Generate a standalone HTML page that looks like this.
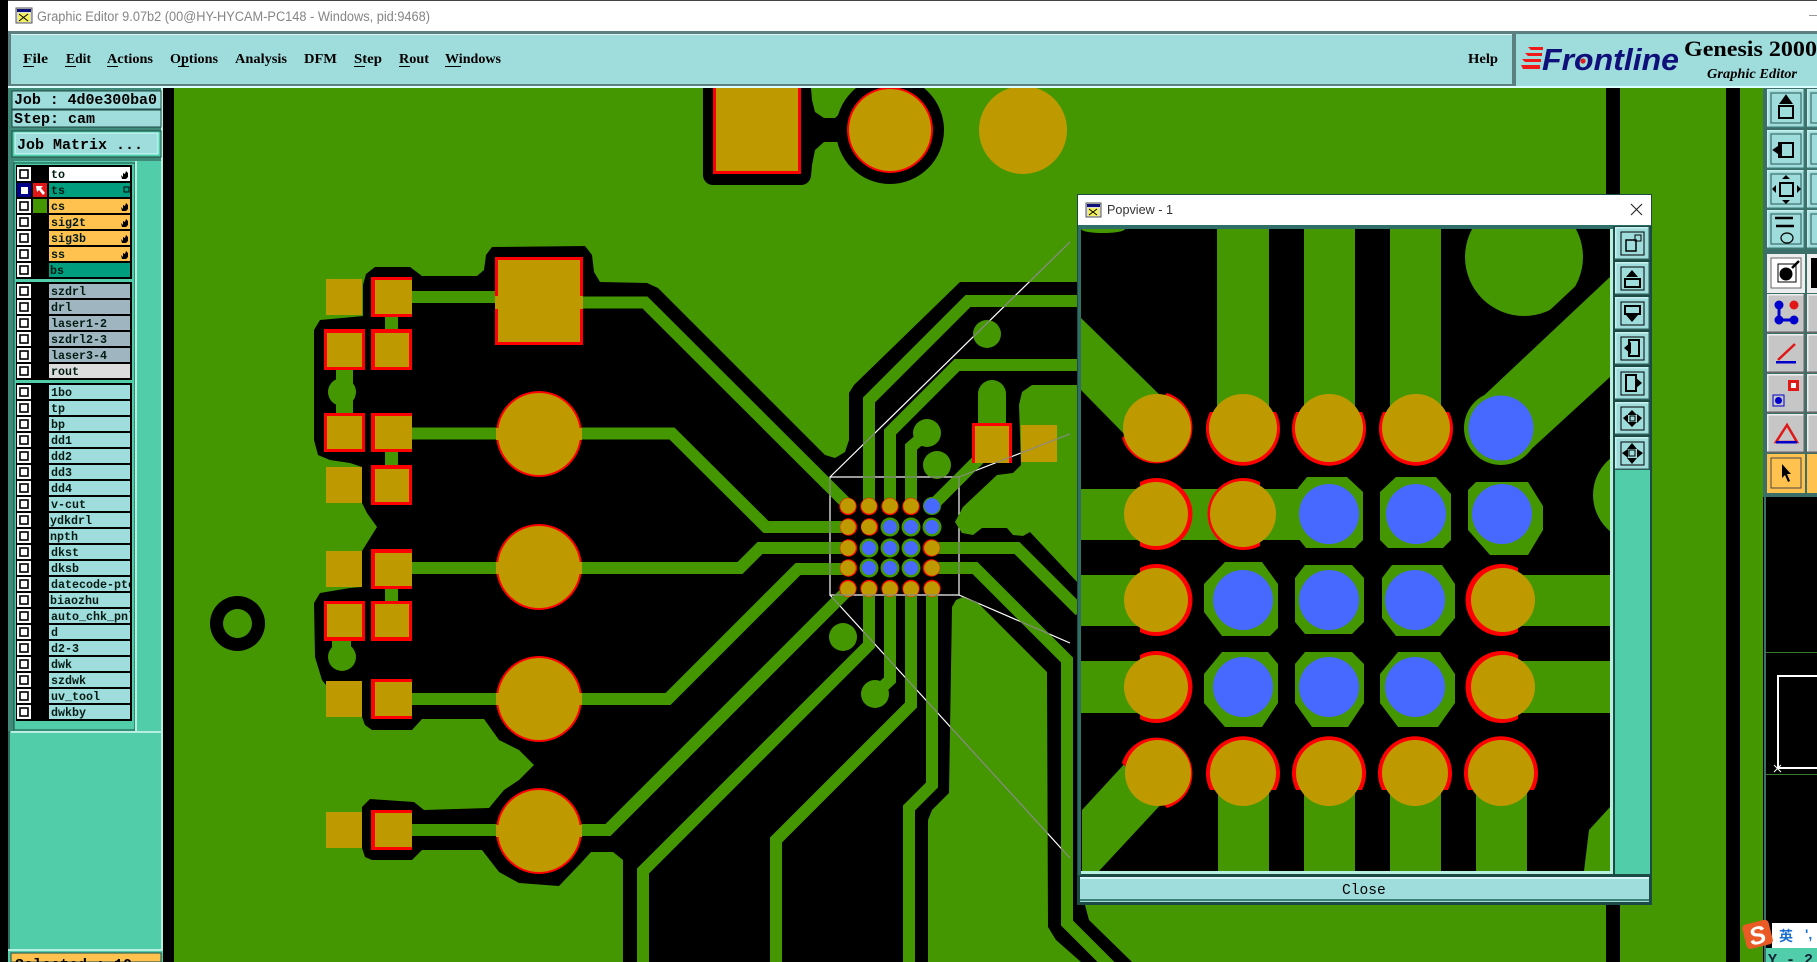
<!DOCTYPE html>
<html><head><meta charset="utf-8"><title>Graphic Editor</title>
<style>html,body{margin:0;padding:0;background:#000;width:1817px;height:962px;overflow:hidden}svg{display:block}
.m{font-family:"Liberation Mono",monospace;font-weight:bold}
.s{font-family:"Liberation Serif",serif;font-weight:bold}
.l{font-family:"Liberation Mono",monospace;font-weight:bold;font-size:11.67px;fill:#001a12}
</style></head><body>
<svg width="1817" height="962" viewBox="0 0 1817 962" xmlns="http://www.w3.org/2000/svg">
<defs>
<clipPath id="lc"><rect x="49" y="160" width="81" height="570"/></clipPath>
<clipPath id="pc"><rect x="1081" y="229" width="529" height="642"/></clipPath>
<clipPath id="sc"><rect x="0" y="950" width="170" height="12"/></clipPath>
<clipPath id="cv"><rect x="174" y="88" width="1589" height="874"/></clipPath>
<clipPath id="yc"><rect x="1766" y="948" width="51" height="14"/></clipPath>
<polygon id="bk" points="363,285 366,274 375,267 410,267 422,276 477,276 484,270 486,255 492,247 585,246 592,255 594,272 600,282 647,283 658,288 825,455 835,458 845,452 849,440 849,393 854,385 960,282 1085,282 1085,385 1032,385 1022,392 1019,405 1021,465 1013,473 997,475 963,507 955,522 962,533 973,535 982,528 1007,528 1013,535 1023,536 1030,532 1077,582 1085,582 1085,905 1089,920 1132,962 623,962 623,860 613,852 591,852 581,863 559,886 519,883 499,872 482,850 422,850 412,860 372,860 365,857 362,848 362,807 370,799 414,802 424,810 489,808 504,790 519,780 534,765 519,750 499,740 484,719 422,719 412,730 372,730 365,725 362,717 362,690 326,685 322,680 315,657 314,603 320,593 350,588 362,587 362,551 367,543 377,527 367,513 362,503 362,467 350,463 330,460 318,455 314,440 314,330 320,320 353,317 363,316"/>
<polygon id="gr" points="928,962 928,820 932,810 949,793 952,607 956,600 963,597 977,602 1047,672 1048,927 1056,940 1081,962"/>
<clipPath id="bc"><use href="#bk"/></clipPath>
<g id="cb"><rect width="14" height="14" fill="#fff"/><rect x="3" y="3" width="8" height="8" fill="#fff" stroke="#000" stroke-width="1.6"/></g>
<polygon id="hand" points="0,4 2,6 2,2 4,3 5,0 7,2 7,6 5,8 1,8" fill="#000"/>
<g id="bt"><rect width="38" height="39" fill="#3c7a74"/><rect width="36.5" height="37.5" fill="#c8f0f0"/><rect x="1.5" y="1.5" width="35" height="36" fill="#9fdcdc"/><rect x="4" y="4" width="30" height="30" fill="none" stroke="#2a5a55"/></g>
<g id="bg"><rect width="38" height="39" fill="#666"/><rect width="36.5" height="37.5" fill="#eee"/><rect x="1.5" y="1.5" width="35" height="36" fill="#c6c6c6"/></g>
<g id="pb"><rect width="35" height="33" fill="#2c5c58"/><rect width="33.5" height="31.5" fill="#c8f0f0"/><rect x="1.5" y="1.5" width="32" height="30" fill="#9fdcdc"/><rect x="6" y="5" width="23" height="23" fill="none" stroke="#000"/></g>
<g id="tr" fill="none" stroke-width="12">
<path d="M412 297H495"/><path d="M583 302.5H645L849 506"/>
<path d="M412 433.5H672L766 527H848"/>
<path d="M412 568H740L760 548H848"/>
<path d="M412 699H668L798 569H848"/>
<path d="M412 830H608L848 590"/>
<path d="M932 548H1017L1080 611"/>
<path d="M932 568H975L1067 660V923L1130 986"/>
<path d="M869 506V400L968 301H1080"/>
<path d="M890 506V432L957 365H1080"/>
<path d="M911 506V447L927 433"/>
<path d="M932 506L992 446"/>
<path d="M869 589V645L643 871V962"/>
<path d="M890 589V680L875 694"/>
<path d="M911 589V705L776 840V962"/>
<path d="M932 589V785L909 808V962"/>
</g>
<mask id="gm" maskUnits="userSpaceOnUse" x="0" y="0" width="1817" height="962">
<use href="#tr" stroke="#fff"/><use href="#gr" fill="#fff"/>
<g fill="#fff"><circle cx="848" cy="589" r="8"/><circle cx="869" cy="589" r="8"/><circle cx="890" cy="589" r="8"/><circle cx="911" cy="589" r="8"/><circle cx="932" cy="589" r="8"/><rect x="972" y="423" width="40" height="40"/><rect x="1021" y="425" width="36" height="37"/><circle cx="987" cy="334" r="14"/><circle cx="937" cy="465" r="14"/></g>
</mask>
</defs>

<rect width="1817" height="962" fill="#000"/>
<!-- canvas -->
<g clip-path="url(#cv)">
<rect x="174" y="88" width="1589" height="874" fill="#449700"/>
<!-- gray lines under black -->
<g stroke="#8a8a8a" stroke-width="1.2" fill="none">
<path d="M830 477L1070 242M959 477L1070 434M959 595L1070 643M830 595L1070 858"/>
</g>
<rect x="1606" y="88" width="14" height="874" fill="#000"/>
<rect x="1726" y="88" width="14" height="874" fill="#000"/>
<circle cx="237.5" cy="623.5" r="27.5" fill="#000"/><circle cx="237.5" cy="623.5" r="14.5" fill="#449700"/>
<!-- top pads -->
<rect x="703" y="70" width="108" height="115" rx="10" fill="#000"/>
<rect x="805" y="118" width="50" height="24" fill="#000"/>
<polygon points="811,88 812,100 815,112 824,118 805,118" fill="#000"/>
<polygon points="811,176 812,165 815,150 824,142 805,140" fill="#000"/>
<polygon points="835,118 850,104 850,118" fill="#000"/>
<polygon points="838,142 850,158 850,142" fill="#000"/>
<circle cx="890" cy="130" r="54" fill="#000"/>
<rect x="713" y="70" width="88" height="104" fill="#f00"/><rect x="716" y="70" width="82" height="101" fill="#bf9900"/>
<circle cx="890" cy="130" r="43" fill="#f00"/><circle cx="890" cy="130" r="41" fill="#bf9900"/>
<circle cx="1023" cy="130" r="44" fill="#bf9900"/>
<!-- black clearance -->
<use href="#bk" fill="#000"/>
<!-- white lines on black -->
<g stroke="#fff" stroke-width="1.2" fill="none" clip-path="url(#bc)">
<path d="M830 477L1070 242M959 477L1070 434M959 595L1070 643M830 595L1070 858"/>
<rect x="830" y="477" width="129" height="118"/>
</g>
<!-- green region on black -->
<use href="#gr" fill="#449700"/>
<use href="#tr" stroke="#449700"/>
<g fill="#449700">
<circle cx="927" cy="433" r="14"/><circle cx="937" cy="465" r="14"/><circle cx="875" cy="694" r="14"/><circle cx="843" cy="637" r="14"/><circle cx="342" cy="392" r="14"/><circle cx="342" cy="657" r="14"/><circle cx="987" cy="334" r="14"/><circle cx="992" cy="394" r="14"/>
<rect x="978" y="394" width="28" height="32"/>
<rect x="385" y="315" width="13" height="16"/><rect x="385" y="450" width="13" height="17"/><rect x="385" y="587" width="13" height="16"/>
<rect x="336" y="368" width="17" height="47"/><rect x="332" y="639" width="19" height="16"/>
</g>
<!-- pads -->
<g fill="#bf9900">
<rect x="326" y="279" width="36" height="36"/><rect x="326" y="467" width="36" height="36"/><rect x="326" y="551" width="36" height="36"/><rect x="326" y="681" width="36" height="36"/><rect x="326" y="812" width="36" height="36"/>
<rect x="1021" y="425" width="36" height="37"/>
</g>
<g>
<rect x="371" y="277" width="41" height="40" fill="#f00"/><rect x="375" y="280" width="37" height="34" fill="#bf9900"/>
<rect x="324" y="329" width="41" height="41" fill="#f00"/><rect x="327" y="333" width="35" height="34" fill="#bf9900"/>
<rect x="371" y="329" width="41" height="41" fill="#f00"/><rect x="375" y="333" width="34" height="34" fill="#bf9900"/>
<rect x="324" y="413" width="41" height="39" fill="#f00"/><rect x="327" y="416" width="35" height="33" fill="#bf9900"/>
<rect x="371" y="413" width="41" height="39" fill="#f00"/><rect x="375" y="416" width="37" height="33" fill="#bf9900"/>
<rect x="371" y="465" width="41" height="40" fill="#f00"/><rect x="375" y="469" width="34" height="33" fill="#bf9900"/>
<rect x="371" y="549" width="41" height="40" fill="#f00"/><rect x="375" y="553" width="37" height="33" fill="#bf9900"/>
<rect x="324" y="601" width="41" height="40" fill="#f00"/><rect x="327" y="604" width="35" height="33" fill="#bf9900"/>
<rect x="371" y="601" width="41" height="40" fill="#f00"/><rect x="375" y="604" width="34" height="33" fill="#bf9900"/>
<rect x="371" y="679" width="41" height="40" fill="#f00"/><rect x="375" y="682" width="37" height="34" fill="#bf9900"/>
<rect x="371" y="810" width="41" height="40" fill="#f00"/><rect x="375" y="813" width="37" height="34" fill="#bf9900"/>
<rect x="495" y="257" width="88" height="88" fill="#f00"/><rect x="498" y="260" width="82" height="82" fill="#bf9900"/>
<rect x="495" y="296" width="88" height="13" fill="#bf9900"/>
<path d="M972 423H1012V463H972Z" fill="#f00"/><rect x="975" y="426" width="34" height="37" fill="#bf9900"/>
</g>
<g fill="#f00"><circle cx="539" cy="434" r="43"/><circle cx="539" cy="567" r="43"/><circle cx="539" cy="699" r="43"/><circle cx="539" cy="831" r="43"/></g>
<g fill="#bf9900"><circle cx="539" cy="434" r="41"/><circle cx="539" cy="567" r="41"/><circle cx="539" cy="699" r="41"/><circle cx="539" cy="831" r="41"/>
<rect x="496" y="428" width="86" height="12"/><rect x="496" y="562" width="86" height="12"/><rect x="496" y="693" width="86" height="12"/><rect x="496" y="825" width="86" height="12"/></g>
<!-- chip -->
<g fill="#f00">
<circle cx="848" cy="506.5" r="8.7"/><circle cx="869" cy="506.5" r="8.7"/><circle cx="890" cy="506.5" r="8.7"/><circle cx="911" cy="506.5" r="8.7"/>
<circle cx="848.5" cy="527" r="8.7"/><circle cx="869.5" cy="527" r="8.7"/><circle cx="848.5" cy="548" r="8.7"/><circle cx="931.5" cy="548" r="8.7"/><circle cx="848.5" cy="568" r="8.7"/><circle cx="931.5" cy="568" r="8.7"/>
<circle cx="848" cy="588.5" r="8.7"/><circle cx="869" cy="588.5" r="8.7"/><circle cx="890" cy="588.5" r="8.7"/><circle cx="911" cy="588.5" r="8.7"/><circle cx="932" cy="588.5" r="8.7"/>
</g>
<g fill="#449700">
<circle cx="932" cy="506" r="9"/><circle cx="890" cy="527" r="9.5"/><circle cx="911" cy="527" r="9.5"/><circle cx="932" cy="527" r="9.5"/>
<circle cx="869" cy="548" r="9.5"/><circle cx="890" cy="548" r="9.5"/><circle cx="911" cy="548" r="9.5"/><circle cx="869" cy="568" r="9.5"/><circle cx="890" cy="568" r="9.5"/><circle cx="911" cy="568" r="9.5"/>
</g>
<g fill="#bf9900">
<circle cx="848" cy="506" r="7.8"/><circle cx="869" cy="506" r="7.8"/><circle cx="890" cy="506" r="7.8"/><circle cx="911" cy="506" r="7.8"/>
<circle cx="848" cy="527" r="7.8"/><circle cx="869" cy="527" r="7.8"/><circle cx="848" cy="548" r="7.8"/><circle cx="932" cy="548" r="7.8"/><circle cx="848" cy="568" r="7.8"/><circle cx="932" cy="568" r="7.8"/>
<circle cx="848" cy="589" r="7.8"/><circle cx="869" cy="589" r="7.8"/><circle cx="890" cy="589" r="7.8"/><circle cx="911" cy="589" r="7.8"/><circle cx="932" cy="589" r="7.8"/>
</g>
<g fill="#4769ff">
<circle cx="932" cy="506" r="7.8"/><circle cx="890" cy="527" r="7"/><circle cx="911" cy="527" r="7"/><circle cx="932" cy="527" r="7"/>
<circle cx="869" cy="548" r="7"/><circle cx="890" cy="548" r="7"/><circle cx="911" cy="548" r="7"/><circle cx="869" cy="568" r="7"/><circle cx="890" cy="568" r="7"/><circle cx="911" cy="568" r="7"/>
</g>
<!-- gray parts of zoom outline across green and pads -->
<g stroke="#8a8a8a" stroke-width="1.2" fill="none" mask="url(#gm)">
<path d="M830 477L1070 242M959 477L1070 434M959 595L1070 643M830 595L1070 858"/>
<rect x="830" y="477" width="129" height="118"/>
</g>
</g>

<!-- title bar -->
<rect x="8" y="1" width="1809" height="30" fill="#fff"/>
<rect x="0" y="0" width="1817" height="1" fill="#444"/>
<rect x="0" y="0" width="8" height="962" fill="#000"/>
<g><rect x="16" y="8" width="16" height="15" fill="#ddd" stroke="#555"/><rect x="17" y="9" width="14" height="3" fill="#10107a"/><rect x="18" y="13" width="12" height="9" fill="#f5f060"/><path d="M19 14L28 21M28 14L19 21" stroke="#000"/></g>
<text x="37" y="21" font-family="'Liberation Sans',sans-serif" font-size="13.5" fill="#858585" textLength="393" lengthAdjust="spacingAndGlyphs">Graphic Editor 9.07b2 (00@HY-HYCAM-PC148 - Windows, pid:9468)</text>
<rect x="1809" y="15" width="8" height="1" fill="#999"/>
<!-- menu bar -->
<rect x="8" y="31" width="1809" height="57" fill="#5c7f80"/>
<rect x="11" y="34" width="1501" height="50" fill="#9fdcdc"/>
<rect x="11" y="34" width="1501" height="1" fill="#d8f4f4"/>
<rect x="1516" y="34" width="301" height="53" fill="#9fdcdc"/>
<rect x="8" y="86" width="1809" height="2" fill="#dff"/>
<g class="s" font-size="14" fill="#000">
<text x="23" y="63" textLength="25" lengthAdjust="spacingAndGlyphs">File</text>
<text x="66" y="63" textLength="25" lengthAdjust="spacingAndGlyphs">Edit</text>
<text x="107" y="63" textLength="46" lengthAdjust="spacingAndGlyphs">Actions</text>
<text x="170" y="63" textLength="48" lengthAdjust="spacingAndGlyphs">Options</text>
<text x="235" y="63" textLength="52" lengthAdjust="spacingAndGlyphs">Analysis</text>
<text x="304" y="63" textLength="33" lengthAdjust="spacingAndGlyphs">DFM</text>
<text x="354" y="63" textLength="28" lengthAdjust="spacingAndGlyphs">Step</text>
<text x="399" y="63" textLength="30" lengthAdjust="spacingAndGlyphs">Rout</text>
<text x="445" y="63" textLength="56" lengthAdjust="spacingAndGlyphs">Windows</text>
<text x="1468" y="63" textLength="30" lengthAdjust="spacingAndGlyphs">Help</text>
</g>
<g fill="#000"><rect x="23" y="66" width="11" height="1"/><rect x="65" y="66" width="11" height="1"/><rect x="107" y="66" width="11" height="1"/><rect x="178" y="66" width="11" height="1"/><rect x="354" y="66" width="11" height="1"/><rect x="399" y="66" width="11" height="1"/><rect x="445" y="66" width="16" height="1"/></g>
<!-- logo -->
<g fill="#f01818"><polygon points="1528,47 1543,47 1543,50 1531,50"/><polygon points="1525,53 1542,53 1542,56 1528,56"/><polygon points="1522,59 1541,59 1541,62 1525,62"/><polygon points="1521,65 1540,65 1540,69 1523,69"/></g>
<text x="1542" y="70" font-family="'Liberation Sans',sans-serif" font-weight="bold" font-style="italic" font-size="31" fill="#10107a" textLength="137" lengthAdjust="spacingAndGlyphs">Frontline</text>
<circle cx="1583" cy="61" r="2.6" fill="#e02020"/>
<text x="1684" y="56" class="s" font-size="22" fill="#000" textLength="133" lengthAdjust="spacingAndGlyphs">Genesis 2000</text>
<text x="1707" y="78" class="s" font-style="italic" font-size="13.5" fill="#000" textLength="90" lengthAdjust="spacingAndGlyphs">Graphic Editor</text>

<!-- left panel -->
<rect x="8" y="88" width="155" height="874" fill="#52cdaa"/>
<rect x="8" y="88" width="155" height="73" fill="#3f8a78"/>
<rect x="8" y="161" width="6" height="570" fill="#3f8a78"/>
<rect x="8" y="731" width="2" height="219" fill="#2f6f60"/>
<rect x="161" y="88" width="2" height="862" fill="#b8f0e0"/>
<rect x="163" y="88" width="11" height="874" fill="#000"/>
<rect x="12" y="91" width="149" height="18" fill="#9fdcdc" stroke="#1c4a44"/>
<rect x="12" y="110" width="149" height="17" fill="#9fdcdc" stroke="#1c4a44"/>
<text x="14" y="104" class="m" font-size="15" fill="#000" textLength="143">Job : 4d0e300ba0</text>
<text x="14" y="123" class="m" font-size="15" fill="#000">Step: cam</text>
<rect x="12" y="131" width="149" height="26" fill="#52cdaa" stroke="#1c4a44"/>
<rect x="15" y="133" width="143" height="21" fill="#9fdcdc" stroke="#cff"/>
<text x="17" y="149" class="m" font-size="15" fill="#000">Job Matrix ...</text>
<rect x="137" y="161" width="24" height="570" fill="#52cdaa"/>
<rect x="14" y="163" width="121" height="567" fill="#52cdaa" stroke="#1c4a44"/>
<rect x="16" y="165" width="116" height="114" fill="#000"/><rect x="16" y="282" width="116" height="98" fill="#000"/><rect x="16" y="383" width="116" height="338" fill="#000"/>
<rect x="135" y="161" width="2" height="570" fill="#b8f0e0"/>
<rect x="11" y="731" width="150" height="2" fill="#b8f0e0"/>
<g>
<rect x="49" y="167" width="81" height="14" fill="#fff"/>
<rect x="49" y="183" width="81" height="14" fill="#009e7e"/>
<rect x="49" y="199" width="81" height="14" fill="#ffc24f"/><rect x="49" y="215" width="81" height="14" fill="#ffc24f"/><rect x="49" y="231" width="81" height="14" fill="#ffc24f"/><rect x="49" y="247" width="81" height="14" fill="#ffc24f"/>
<rect x="49" y="263" width="81" height="14" fill="#009e7e"/>
<rect x="49" y="284" width="81" height="14" fill="#9fb6c0"/><rect x="49" y="300" width="81" height="14" fill="#9fb6c0"/><rect x="49" y="316" width="81" height="14" fill="#9fb6c0"/><rect x="49" y="332" width="81" height="14" fill="#9fb6c0"/><rect x="49" y="348" width="81" height="14" fill="#9fb6c0"/>
<rect x="49" y="364" width="81" height="14" fill="#dcdcdc"/>
<rect x="49" y="385" width="81" height="14" fill="#9fdcdc"/><rect x="49" y="401" width="81" height="14" fill="#9fdcdc"/><rect x="49" y="417" width="81" height="14" fill="#9fdcdc"/><rect x="49" y="433" width="81" height="14" fill="#9fdcdc"/><rect x="49" y="449" width="81" height="14" fill="#9fdcdc"/><rect x="49" y="465" width="81" height="14" fill="#9fdcdc"/><rect x="49" y="481" width="81" height="14" fill="#9fdcdc"/><rect x="49" y="497" width="81" height="14" fill="#9fdcdc"/><rect x="49" y="513" width="81" height="14" fill="#9fdcdc"/><rect x="49" y="529" width="81" height="14" fill="#9fdcdc"/><rect x="49" y="545" width="81" height="14" fill="#9fdcdc"/><rect x="49" y="561" width="81" height="14" fill="#9fdcdc"/><rect x="49" y="577" width="81" height="14" fill="#9fdcdc"/><rect x="49" y="593" width="81" height="14" fill="#9fdcdc"/><rect x="49" y="609" width="81" height="14" fill="#9fdcdc"/><rect x="49" y="625" width="81" height="14" fill="#9fdcdc"/><rect x="49" y="641" width="81" height="14" fill="#9fdcdc"/><rect x="49" y="657" width="81" height="14" fill="#9fdcdc"/><rect x="49" y="673" width="81" height="14" fill="#9fdcdc"/><rect x="49" y="689" width="81" height="14" fill="#9fdcdc"/><rect x="49" y="705" width="81" height="14" fill="#9fdcdc"/>
</g>
<g clip-path="url(#lc)">
<text class="l" x="51" y="178">to</text><text class="l" x="51" y="194">ts</text><text class="l" x="51" y="210">cs</text><text class="l" x="51" y="226">sig2t</text><text class="l" x="51" y="242">sig3b</text><text class="l" x="51" y="258">ss</text><text class="l" x="50" y="274">bs</text>
<text class="l" x="51" y="295">szdrl</text><text class="l" x="51" y="311">drl</text><text class="l" x="51" y="327">laser1-2</text><text class="l" x="51" y="343">szdrl2-3</text><text class="l" x="51" y="359">laser3-4</text><text class="l" x="51" y="375">rout</text>
<text class="l" x="51" y="396">1bo</text><text class="l" x="51" y="412">tp</text><text class="l" x="51" y="428">bp</text><text class="l" x="51" y="444">dd1</text><text class="l" x="51" y="460">dd2</text><text class="l" x="51" y="476">dd3</text><text class="l" x="51" y="492">dd4</text><text class="l" x="51" y="508">v-cut</text><text class="l" x="50" y="524">ydkdrl</text><text class="l" x="50" y="540">npth</text><text class="l" x="51" y="556">dkst</text><text class="l" x="51" y="572">dksb</text><text class="l" x="51" y="588">datecode-ptc</text><text class="l" x="50" y="604">biaozhu</text><text class="l" x="51" y="620">auto_chk_pnl</text><text class="l" x="51" y="636">d</text><text class="l" x="51" y="652">d2-3</text><text class="l" x="51" y="668">dwk</text><text class="l" x="51" y="684">szdwk</text><text class="l" x="51" y="700">uv_tool</text><text class="l" x="51" y="716">dwkby</text>
</g>
<use href="#cb" x="17" y="167"/><rect x="17" y="183" width="14" height="14" fill="#00008b"/><rect x="21" y="187" width="7" height="7" fill="#fff"/><use href="#cb" x="17" y="199"/><use href="#cb" x="17" y="215"/><use href="#cb" x="17" y="231"/><use href="#cb" x="17" y="247"/><use href="#cb" x="17" y="263"/>
<use href="#cb" x="17" y="284"/><use href="#cb" x="17" y="300"/><use href="#cb" x="17" y="316"/><use href="#cb" x="17" y="332"/><use href="#cb" x="17" y="348"/><use href="#cb" x="17" y="364"/>
<use href="#cb" x="17" y="385"/><use href="#cb" x="17" y="401"/><use href="#cb" x="17" y="417"/><use href="#cb" x="17" y="433"/><use href="#cb" x="17" y="449"/><use href="#cb" x="17" y="465"/><use href="#cb" x="17" y="481"/><use href="#cb" x="17" y="497"/><use href="#cb" x="17" y="513"/><use href="#cb" x="17" y="529"/><use href="#cb" x="17" y="545"/><use href="#cb" x="17" y="561"/><use href="#cb" x="17" y="577"/><use href="#cb" x="17" y="593"/><use href="#cb" x="17" y="609"/><use href="#cb" x="17" y="625"/><use href="#cb" x="17" y="641"/><use href="#cb" x="17" y="657"/><use href="#cb" x="17" y="673"/><use href="#cb" x="17" y="689"/><use href="#cb" x="17" y="705"/>
<rect x="33" y="183" width="14" height="14" fill="#e01818"/><path d="M36 186H43L41 188L45 193L43 195L39 190L37 192Z" fill="#fff"/>
<rect x="33" y="199" width="14" height="14" fill="#449700"/>
<use href="#hand" x="121" y="171"/><rect x="124" y="187" width="5" height="5" fill="none" stroke="#000"/><use href="#hand" x="121" y="203"/><use href="#hand" x="121" y="219"/><use href="#hand" x="121" y="235"/><use href="#hand" x="121" y="251"/>
<rect x="8" y="949" width="155" height="2" fill="#b8f0e0"/>
<rect x="11" y="953" width="150" height="9" fill="#ffc24f" stroke="#1c4a44"/>
<text x="15" y="969" class="m" font-size="15" fill="#000" clip-path="url(#sc)">Selected : 10</text>

<!-- right toolbar -->
<rect x="1763" y="88" width="54" height="409" fill="#3c6f68"/>
<rect x="1765" y="497" width="52" height="465" fill="#000"/>
<rect x="1764" y="497" width="2" height="465" fill="#3c6f68"/>
<rect x="1766" y="652" width="51" height="1" fill="#3a7a30"/><rect x="1766" y="774" width="51" height="1" fill="#3a7a30"/>
<path d="M1778 768V676H1817M1778 768H1817" fill="none" stroke="#fff" stroke-width="2"/>
<path d="M1774 765L1781 772M1781 765L1774 772" stroke="#fff"/>
<use href="#bt" x="1767" y="89"/><use href="#bt" x="1767" y="130"/><use href="#bt" x="1767" y="170"/><use href="#bt" x="1767" y="210"/>
<use href="#bt" x="1807" y="89"/><use href="#bt" x="1807" y="130"/><use href="#bt" x="1807" y="170"/><use href="#bt" x="1807" y="210"/>
<g fill="none" stroke="#000" stroke-width="2">
<rect x="1779" y="106" width="14" height="12"/><path d="M1786 96L1781 103H1791Z" fill="#000"/>
<rect x="1779" y="143" width="14" height="14"/><path d="M1774 150L1781 145V155Z" fill="#000"/>
<rect x="1780" y="183" width="13" height="13"/><path d="M1786 175L1782 179H1790ZM1786 204L1782 200H1790ZM1772 189L1776 185V193ZM1801 189L1797 185V193Z" fill="#000" stroke="none"/>
<path d="M1775 218H1793M1776 226H1794" stroke-width="2.5"/><ellipse cx="1787" cy="238" rx="6" ry="5" stroke-width="1.2"/>
</g>
<rect x="1767" y="254" width="38" height="39" fill="#eee"/><rect x="1771" y="258" width="30" height="30" fill="#fff" stroke="#666"/>
<circle cx="1786" cy="274" r="6.5" fill="#000"/><path d="M1792 268L1799 261" stroke="#000" stroke-width="2.5"/><rect x="1778" y="264" width="18" height="18" fill="none" stroke="#000"/>
<rect x="1807" y="254" width="10" height="39" fill="#eee"/><rect x="1811" y="258" width="6" height="30" fill="#000"/>
<use href="#bg" x="1767" y="294"/><use href="#bg" x="1767" y="334"/><use href="#bg" x="1767" y="374"/><use href="#bg" x="1767" y="414"/>
<use href="#bg" x="1807" y="294"/><use href="#bg" x="1807" y="334"/><use href="#bg" x="1807" y="374"/><use href="#bg" x="1807" y="414"/>
<path d="M1779 306V320H1793" fill="none" stroke="#00c" stroke-width="3"/><circle cx="1779" cy="305" r="4.5" fill="#00c"/><circle cx="1779" cy="320" r="4.5" fill="#00c"/><circle cx="1794" cy="320" r="4.5" fill="#00c"/><circle cx="1794" cy="305" r="4.5" fill="#e01818"/>
<path d="M1778 360L1795 344" stroke="#e01818" stroke-width="2.5"/><rect x="1776" y="361" width="20" height="2.5" fill="#00c"/>
<rect x="1788" y="380" width="11" height="11" fill="#e01818"/><rect x="1791" y="383" width="5" height="5" fill="#fff"/><rect x="1773" y="395" width="11" height="11" fill="none" stroke="#00c"/><circle cx="1778.5" cy="400.5" r="3.5" fill="#00c"/>
<path d="M1787 425L1776 442H1797Z" fill="none" stroke="#e01818" stroke-width="2.5"/><rect x="1776" y="441" width="21" height="2.5" fill="#00c"/>
<rect x="1767" y="454" width="38" height="39" fill="#ffc24f"/><rect x="1771" y="458" width="30" height="30" fill="none" stroke="#444"/><path d="M1782 464L1782 478L1785 475L1788 482L1790 481L1787 474L1791 474Z" fill="#000"/>
<rect x="1807" y="454" width="10" height="39" fill="#ffc24f"/>

<!-- sogou -->
<rect x="1772" y="923" width="45" height="25" fill="#fff"/>
<rect x="1766" y="948" width="51" height="14" fill="#52cdaa"/>
<text x="1768" y="964" class="m" font-size="15" fill="#123" clip-path="url(#yc)">Y - 2</text>
<g transform="rotate(-14 1757 934)"><rect x="1744" y="922" width="27" height="25" rx="4" fill="#ea5a24"/><text x="1757" y="944" text-anchor="middle" font-family="'Liberation Sans',sans-serif" font-weight="bold" font-style="italic" font-size="25" fill="#fff">S</text></g>
<text x="1779" y="941" font-family="'Liberation Sans','Noto Sans CJK SC',sans-serif" font-weight="bold" font-size="14" fill="#1a6fd0">英</text>
<text x="1805" y="939" font-family="'Liberation Sans',sans-serif" font-weight="bold" font-size="14" fill="#1a6fd0">',</text>

<!-- popup -->
<rect x="1077" y="194" width="575" height="711" fill="#1c4a44"/>
<rect x="1078" y="195" width="573" height="30" fill="#fff"/>
<rect x="1078" y="225" width="573" height="4" fill="#2f6f68"/>
<rect x="1078" y="229" width="3" height="646" fill="#2f6f68"/>
<rect x="1081" y="229" width="529" height="642" fill="#000"/>
<g clip-path="url(#pc)">
<circle cx="1524" cy="257" r="59" fill="#449700"/>
<polygon points="1550,310 1582,280 1592,320" fill="#000"/>
<g fill="#449700">
<ellipse cx="1103" cy="229" rx="22" ry="4"/>
<rect x="1217" y="229" width="52" height="200"/><rect x="1304" y="229" width="51" height="200"/><rect x="1390" y="229" width="51" height="200"/>
<polygon points="1081,318 1165,400 1130,440 1081,390"/>
<polygon points="1610,277 1476,403 1527,453 1610,377"/>
<circle cx="1501" cy="428" r="37"/>
<circle cx="1640" cy="495" r="47"/>
<rect x="1081" y="489" width="220" height="51"/>
<rect x="1081" y="575" width="80" height="51"/><rect x="1501" y="575" width="109" height="51"/>
<rect x="1081" y="661" width="80" height="52"/><rect x="1501" y="661" width="109" height="52"/>
<polygon points="1082,810 1128,760 1165,800 1099,871 1082,871"/>
<rect x="1218" y="773" width="51" height="98"/><rect x="1304" y="773" width="51" height="98"/><rect x="1390" y="773" width="51" height="98"/><rect x="1476" y="773" width="51" height="98"/>
<polygon points="1610,807 1589,830 1584,871 1610,871"/>
<polygon points="1307,477 1347,477 1363,492 1363,540 1355,548 1306,548 1298,538 1298,488"/>
<polygon points="1396,477 1436,477 1451,494 1451,540 1443,548 1388,548 1380,540 1380,492"/>
<polygon points="1476,482 1528,482 1543,506 1543,530 1528,555 1490,555 1468,530 1468,490"/>
<polygon points="1225,562 1262,562 1278,584 1278,628 1270,636 1222,636 1204,612 1204,584"/>
<polygon points="1305,565 1352,565 1364,578 1364,622 1352,634 1305,634 1295,622 1295,578"/>
<polygon points="1392,565 1442,565 1455,584 1455,618 1440,636 1396,636 1382,618 1382,578"/>
<polygon points="1222,652 1268,652 1278,664 1278,703 1262,727 1225,727 1204,703 1204,674"/>
<polygon points="1305,652 1352,652 1364,664 1364,703 1348,727 1312,727 1295,703 1295,664"/>
<polygon points="1398,652 1440,652 1455,674 1455,703 1438,727 1398,727 1380,703 1380,674"/>
</g>
<g fill="#f00">
<path d="M1167 393A36 36 0 1 1 1122 438Z"/>
<path d="M1210 412A37 37 0 1 0 1276 412Z"/><path d="M1296 412A37 37 0 1 0 1362 412Z"/><path d="M1383 412A37 37 0 1 0 1449 412Z"/>
<path d="M1140 482A36 36 0 1 1 1140 546Z"/><path d="M1260 482A36 36 0 1 0 1260 546Z"/>
<path d="M1140 568A36 36 0 1 1 1140 632Z"/><path d="M1518 568A36 36 0 1 0 1518 632Z"/>
<path d="M1140 655A36 36 0 1 1 1140 719Z"/><path d="M1518 655A36 36 0 1 0 1518 719Z"/>
<path d="M1122 763A36 36 0 1 1 1167 808Z"/>
<path d="M1210 790A37 37 0 1 1 1276 790Z"/><path d="M1296 790A37 37 0 1 1 1362 790Z"/><path d="M1382 790A37 37 0 1 1 1448 790Z"/><path d="M1468 790A37 37 0 1 1 1534 790Z"/>
</g>
<g fill="#bf9900">
<circle cx="1157" cy="428" r="34"/><circle cx="1243" cy="428" r="34"/><circle cx="1329" cy="428" r="34"/><circle cx="1416" cy="428" r="34"/>
<circle cx="1156" cy="514" r="32"/><circle cx="1243" cy="514" r="33"/>
<circle cx="1156" cy="600" r="32"/><circle cx="1503" cy="600" r="32"/>
<circle cx="1156" cy="687" r="32"/><circle cx="1503" cy="687" r="32"/>
<circle cx="1158" cy="773" r="33"/><circle cx="1243" cy="773" r="33"/><circle cx="1329" cy="773" r="33"/><circle cx="1415" cy="773" r="33"/><circle cx="1501" cy="773" r="33"/>
</g>
<g fill="#4769ff">
<circle cx="1501" cy="428" r="32.5"/>
<circle cx="1329" cy="514" r="30"/><circle cx="1416" cy="514" r="30"/><circle cx="1502" cy="514" r="30"/>
<circle cx="1243" cy="600" r="30"/><circle cx="1329" cy="600" r="30"/><circle cx="1415" cy="600" r="30"/>
<circle cx="1243" cy="687" r="30"/><circle cx="1329" cy="687" r="30"/><circle cx="1415" cy="687" r="30"/>
</g>
</g>
<rect x="1081" y="871" width="532" height="3" fill="#b8f0e0"/>
<rect x="1610" y="229" width="3" height="645" fill="#b8f0e0"/>
<rect x="1613" y="226" width="38" height="650" fill="#1c4a44"/>
<rect x="1615" y="470" width="35" height="404" fill="#52cdaa"/>
<use href="#pb" x="1615" y="227"/><use href="#pb" x="1615" y="262"/><use href="#pb" x="1615" y="297"/><use href="#pb" x="1615" y="332"/><use href="#pb" x="1615" y="367"/><use href="#pb" x="1615" y="402"/><use href="#pb" x="1615" y="437"/>
<g fill="#000">
<rect x="1626" y="240" width="10" height="11" fill="none" stroke="#000" stroke-width="1.5"/><rect x="1635" y="235" width="6" height="6" fill="none" stroke="#000"/>
<path d="M1632 270L1626 277H1638Z"/><rect x="1625" y="279" width="15" height="8" fill="none" stroke="#000" stroke-width="2"/>
<rect x="1625" y="306" width="15" height="8" fill="none" stroke="#000" stroke-width="2"/><path d="M1632 322L1626 315H1638Z"/>
<rect x="1629" y="340" width="10" height="16" fill="none" stroke="#000" stroke-width="2"/><path d="M1624 348L1631 342V354Z"/>
<rect x="1626" y="375" width="10" height="16" fill="none" stroke="#000" stroke-width="2"/><path d="M1642 383L1635 377V389Z"/>
<path d="M1632 410L1627 415H1637ZM1632 427L1627 422H1637ZM1623 418L1628 414V423ZM1642 418L1637 414V423Z"/><rect x="1630" y="416" width="5" height="5" fill="none" stroke="#000"/>
<path d="M1632 443L1627 449H1637ZM1632 464L1627 458H1637ZM1622 453L1628 449V458ZM1643 453L1637 449V458Z"/><rect x="1629" y="450" width="6" height="6" fill="none" stroke="#000"/>
</g>
<rect x="1078" y="875" width="573" height="29" fill="#1c4a44"/>
<rect x="1080" y="877" width="569" height="25" fill="#9fdcdc"/>
<rect x="1080" y="877" width="569" height="2" fill="#d8f6f6"/><rect x="1080" y="899" width="569" height="2" fill="#3f8078"/>
<text x="1342" y="894" font-family="'Liberation Mono',monospace" font-size="14.6" fill="#000">Close</text>
<g><rect x="1086" y="203" width="15" height="14" fill="#ddd" stroke="#555"/><rect x="1087" y="204" width="13" height="3" fill="#10107a"/><rect x="1088" y="208" width="11" height="8" fill="#f5f060"/><path d="M1089 209L1097 215M1097 209L1089 215" stroke="#000"/></g>
<text x="1107" y="214" font-family="'Liberation Sans',sans-serif" font-size="12.5" fill="#333" textLength="66" lengthAdjust="spacingAndGlyphs">Popview - 1</text>
<path d="M1631 204L1642 215M1642 204L1631 215" stroke="#222" stroke-width="1.1"/>
</svg>
</body></html>
